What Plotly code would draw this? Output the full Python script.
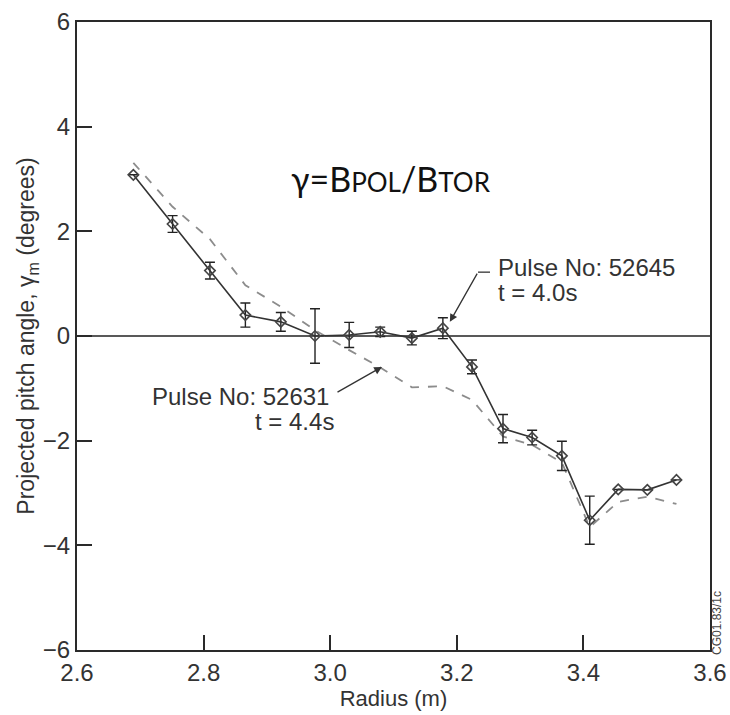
import plotly.graph_objects as go

# Pulse No: 52645, t = 4.0 s (measured, with error bars)
radius = [2.689, 2.751, 2.810, 2.866, 2.922, 2.976, 3.030, 3.079, 3.129,
          3.178, 3.224, 3.273, 3.319, 3.366, 3.410, 3.455, 3.501, 3.547]
pitch_52645 = [3.08, 2.14, 1.25, 0.40, 0.27, 0.00, 0.02, 0.08, -0.04,
               0.15, -0.59, -1.77, -1.94, -2.29, -3.52, -2.93, -2.94, -2.75]
err_52645 = [0.0, 0.16, 0.16, 0.23, 0.18, 0.52, 0.24, 0.09, 0.13,
             0.20, 0.13, 0.27, 0.14, 0.28, 0.46, 0.0, 0.0, 0.0]

# Pulse No: 52631, t = 4.4 s
pitch_52631 = [3.31, 2.47, 1.85, 0.97, 0.56, 0.11, -0.27, -0.60, -0.98,
               -0.96, -1.22, -1.92, -2.08, -2.42, -3.65, -3.17, -3.07, -3.21]

x_ticks = [2.6, 2.8, 3.0, 3.2, 3.4, 3.6]
x_tick_text = ["2.6", "2.8", "3.0", "3.2", "3.4", "3.6"]
y_ticks = [-6, -4, -2, 0, 2, 4, 6]
y_tick_text = ["\u22126", "\u22124", "\u22122", "0", "2", "4", "6"]

AX = "#2a2a2a"
TXT = "#333333"
FONT = "Liberation Sans, Arial, sans-serif"

fig = go.Figure()

fig.add_trace(go.Scatter(
    x=radius, y=pitch_52631, mode="lines",
    line=dict(color="#8c8c8c", width=1.8, dash="dash"),
    showlegend=False, hoverinfo="skip",
))

fig.add_trace(go.Scatter(
    x=radius, y=pitch_52645, mode="lines+markers",
    line=dict(color="#333333", width=1.6),
    marker=dict(symbol="diamond-open", size=8, color="#444444",
                line=dict(width=1.6, color="#444444")),
    error_y=dict(type="data", array=err_52645, visible=True,
                 color="#222222", thickness=1.4, width=5),
    showlegend=False,
))

# zero reference line
fig.add_shape(type="line", xref="paper", yref="y", x0=0, x1=1, y0=0, y1=0,
              line=dict(color="#222222", width=1.6), layer="below")

# bent leader for the 52645 label
fig.add_shape(type="line", xref="x", yref="y",
              x0=3.2335, y0=1.22, x1=3.2525, y1=1.22,
              line=dict(color="#333333", width=1.3))

label_font = dict(family=FONT, size=24, color=TXT)


def px_x(px):
    return 2.6 + (px - 77) / 633


def px_y(py):
    return (336 - py) / 52.3


annotations = [
    dict(x=3.189, y=0.27, ax=3.2335, ay=1.22, xref="x", yref="y",
         axref="x", ayref="y", text="", showarrow=True,
         arrowhead=2, arrowsize=1.2, arrowwidth=1.3, arrowcolor="#333333"),
    dict(x=px_x(496), y=px_y(268), xref="x", yref="y", xanchor="left",
         yanchor="middle", text="Pulse No: 52645", showarrow=False,
         font=label_font),
    dict(x=px_x(496), y=px_y(293), xref="x", yref="y", xanchor="left",
         yanchor="middle", text="t = 4.0s", showarrow=False, font=label_font),
    dict(x=3.0818, y=-0.59, ax=px_x(336), ay=px_y(393), xref="x", yref="y",
         axref="x", ayref="y", text="", showarrow=True,
         arrowhead=2, arrowsize=1.2, arrowwidth=1.3, arrowcolor="#333333"),
    dict(x=px_x(331), y=px_y(396), xref="x", yref="y", xanchor="right",
         yanchor="middle", text="Pulse No: 52631", showarrow=False,
         font=label_font),
    dict(x=px_x(336), y=px_y(421), xref="x", yref="y", xanchor="right",
         yanchor="middle", text="t = 4.4s", showarrow=False, font=label_font),
    dict(x=px_x(391), y=px_y(179), xref="x", yref="y", xanchor="center",
         yanchor="middle",
         text="\u03b3=B<span style='font-size:26px'>POL</span>/B"
              "<span style='font-size:26px'>TOR</span>",
         showarrow=False,
         font=dict(family="Lato, Open Sans, sans-serif", size=34, color="#111111")),
    dict(x=(717 - 77) / 633, y=(650 - 623) / 628, xref="paper", yref="paper",
         xanchor="center", yanchor="middle", text="CG01.83/1c",
         showarrow=False, textangle=-90,
         font=dict(family=FONT, size=12, color="#444444")),
]

fig.update_layout(
    width=730, height=715,
    margin=dict(l=77, r=20, t=22, b=65),
    paper_bgcolor="white", plot_bgcolor="white",
    annotations=annotations,
    font=dict(family=FONT, color=TXT),
)

fig.update_xaxes(
    range=[2.6, 3.6], tickvals=x_ticks, ticktext=x_tick_text,
    ticks="inside", ticklen=15, tickwidth=1.5, tickcolor=AX,
    showline=True, linecolor=AX, linewidth=2, mirror=True,
    showgrid=False, zeroline=False, ticklabelstandoff=0, automargin=False,
    tickfont=dict(family=FONT, size=24, color=TXT),
    title=dict(text="Radius (m)", font=dict(family=FONT, size=22, color=TXT),
               standoff=0),
)
fig.update_yaxes(
    range=[-6, 6], tickvals=y_ticks, ticktext=y_tick_text,
    ticks="inside", ticklen=15, tickwidth=1.5, tickcolor=AX,
    showline=True, linecolor=AX, linewidth=2, mirror=True,
    showgrid=False, zeroline=False, ticklabelstandoff=0, automargin=False,
    tickfont=dict(family=FONT, size=24, color=TXT),
    title=dict(text="Projected pitch angle, \u03b3<sub>m</sub> (degrees)",
               font=dict(family=FONT, size=23, color=TXT), standoff=2),
)

fig.write_html("out.html")
